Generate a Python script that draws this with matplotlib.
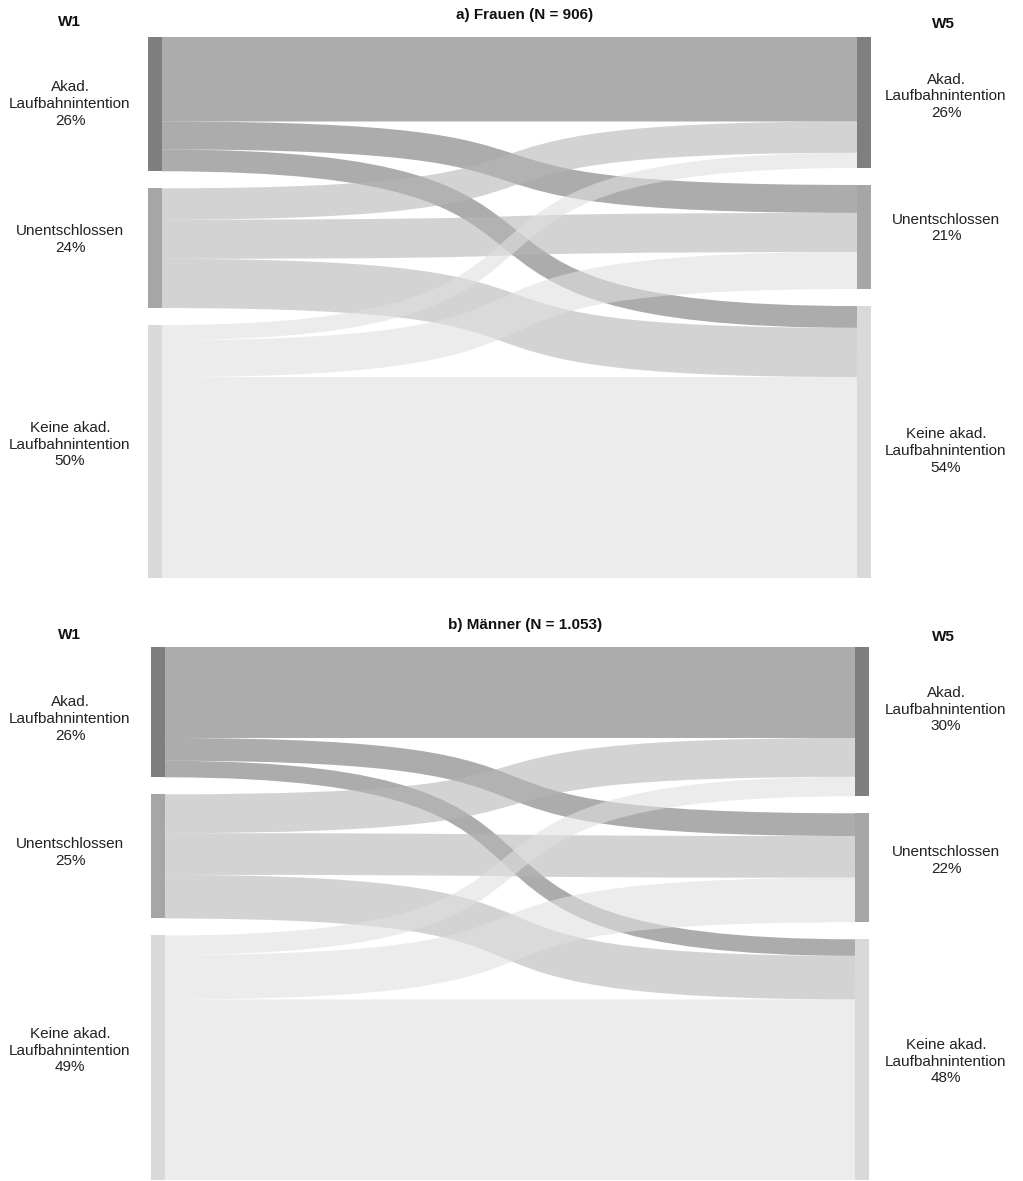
import matplotlib
matplotlib.use('Agg')
import matplotlib.pyplot as plt
from matplotlib.path import Path
from matplotlib.patches import PathPatch, Rectangle

plt.rcParams['font.family'] = ['Liberation Sans', 'DejaVu Sans']

# categories (same for W1 and W5)
categories = ['Akad.\nLaufbahnintention', 'Unentschlossen', 'Keine akad.\nLaufbahnintention']

# flow counts W1 (rows) -> W5 (cols)
frauen_flows = [[151, 50, 39],
                [56, 70, 88],
                [27, 66, 359]]
maenner_flows = [[192, 48, 35],
                 [82, 88, 92],
                 [41, 94, 381]]

panel_titles = ['a) Frauen (N = 906)', 'b) Männer (N = 1.053)']

# styling
node_colors = ['#7f7f7f', '#a6a6a6', '#d9d9d9']
link_colors = ['#767676', '#b7b7b7', '#e0e0e0']
link_alpha = 0.6
curv = 0.72  # bezier control point position, >0.5 makes the turn steeper in the middle

W, H = 1023, 1181


def fig_rect(x0, y0, x1, y1):
    return [x0 / W, 1 - y1 / H, (x1 - x0) / W, (y1 - y0) / H]


def draw_sankey(fig, flows, box, title, title_y, w_y, nudges):
    x0, y0, x1, y1 = box
    ax = fig.add_axes(fig_rect(x0, y0, x1, y1))
    ax.set_xlim(0, 1)
    ax.set_ylim(1, 0)
    ax.axis('off')

    nw = 14 / (x1 - x0)
    pad = 17 / (y1 - y0)
    usable = 1 - 2 * pad
    n = len(flows)
    total = sum(sum(r) for r in flows)
    left_tot = [sum(flows[i]) for i in range(n)]
    right_tot = [sum(flows[i][j] for i in range(n)) for j in range(n)]

    def stack(tots):
        tops, y = [], 0
        for t in tots:
            tops.append(y)
            y += t / total * usable + pad
        return tops

    ltop = stack(left_tot)
    rtop = stack(right_tot)

    # links drawn as thick ribbons along an S-shaped centre line
    lcur = list(ltop)
    rcur = list(rtop)
    xa, xb = nw, 1 - nw
    c1 = xa + curv * (xb - xa)
    c2 = xb - curv * (xb - xa)
    px_per_unit = y1 - y0
    for i in range(n):
        for j in range(n):
            h = flows[i][j] / total * usable
            ya = lcur[i] + h / 2
            yb = rcur[j] + h / 2
            lcur[i] += h
            rcur[j] += h
            path = Path([(xa, ya), (c1, ya), (c2, yb), (xb, yb)],
                        [Path.MOVETO, Path.CURVE4, Path.CURVE4, Path.CURVE4])
            lw = h * px_per_unit * 72 / 100
            ax.add_patch(PathPatch(path, facecolor='none', edgecolor=link_colors[i],
                                   linewidth=lw, alpha=link_alpha, capstyle='butt',
                                   zorder=1))

    # nodes + labels
    for k in range(n):
        hl = left_tot[k] / total * usable
        hr = right_tot[k] / total * usable
        ax.add_patch(Rectangle((0, ltop[k]), nw, hl, facecolor=node_colors[k],
                               edgecolor='none', zorder=3))
        ax.add_patch(Rectangle((1 - nw, rtop[k]), nw, hr, facecolor=node_colors[k],
                               edgecolor='none', zorder=3))
        pl = round(left_tot[k] / total * 100)
        pr = round(right_tot[k] / total * 100)
        yl = y0 + (ltop[k] + hl / 2) * px_per_unit + nudges[0][k]
        yr = y0 + (rtop[k] + hr / 2) * px_per_unit + nudges[1][k]
        fig.text(70 / W, 1 - yl / H, f'{categories[k]}\n{pl}%', ha='center', va='center',
                 fontsize=11, linespacing=1.25, color='#222222')
        fig.text(946 / W, 1 - yr / H, f'{categories[k]}\n{pr}%', ha='center', va='center',
                 fontsize=11, linespacing=1.25, color='#222222')

    fig.text(525 / W, 1 - title_y / H, title, ha='center', va='center',
             fontsize=11, fontweight='bold', color='#111111')
    fig.text(69 / W, 1 - w_y[0] / H, 'W1', ha='center', va='center',
             fontsize=11, fontweight='bold', color='#111111')
    fig.text(943 / W, 1 - w_y[1] / H, 'W5', ha='center', va='center',
             fontsize=11, fontweight='bold', color='#111111')


fig = plt.figure(figsize=(W / 100, H / 100), dpi=100)
fig.patch.set_facecolor('white')

draw_sankey(fig, frauen_flows, (148, 37, 871, 578), panel_titles[0], 15, (22, 24),
            ([0, -9, -7], [-6, -9, 9]))
draw_sankey(fig, maenner_flows, (151, 647, 869, 1180), panel_titles[1], 625, (635, 637),
            ([7, -4, -7], [-12, -7, 2]))

fig.savefig('out.png', dpi=100)
